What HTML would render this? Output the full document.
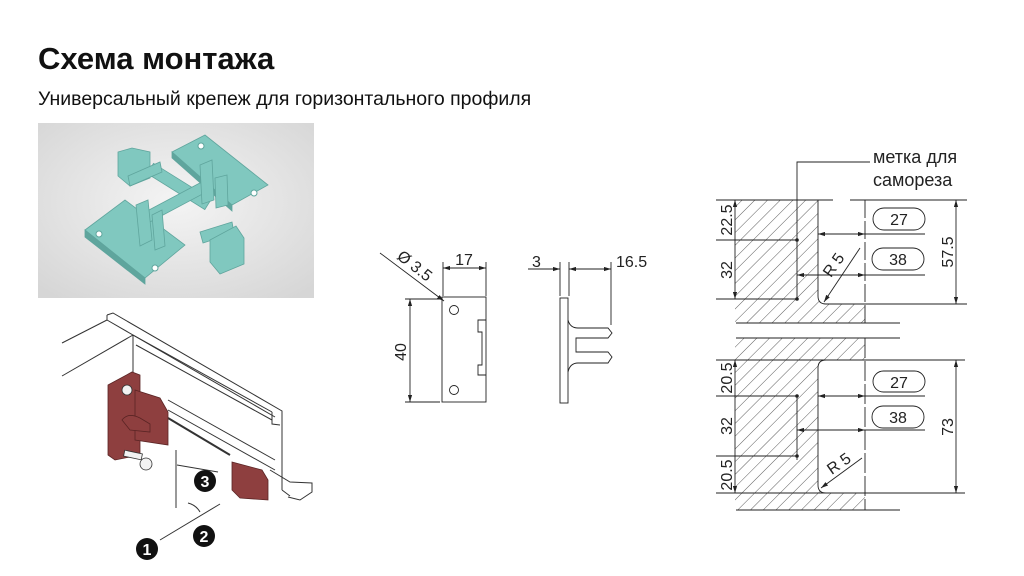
<!DOCTYPE html>
<html><head><meta charset="utf-8"><style>
html,body{margin:0;padding:0;background:#fff;}
body{width:1024px;height:576px;overflow:hidden;position:relative;font-family:"Liberation Sans",sans-serif;}
h1{position:absolute;left:38px;top:41px;margin:0;font-size:31px;font-weight:bold;color:#111;}
.sub{position:absolute;left:38px;top:88px;font-size:19.5px;color:#111;}
svg{position:absolute;left:0;top:0;}
</style></head><body>
<h1>Схема монтажа</h1>
<div class="sub">Универсальный крепеж для горизонтального профиля</div>
<svg width="1024" height="576" viewBox="0 0 1024 576" font-family="Liberation Sans, sans-serif">
<defs>
<radialGradient id="bg" cx="0.5" cy="0.45" r="0.7"><stop offset="0" stop-color="#f4f4f4"/><stop offset="1" stop-color="#d6d6d6"/></radialGradient>
<pattern id="h" width="9" height="9" patternUnits="userSpaceOnUse" patternTransform="rotate(45)"><line x1="0" y1="0" x2="0" y2="9" stroke="#333" stroke-width="0.8"/></pattern>
<marker id="a" viewBox="0 0 10 6" refX="10" refY="3" markerWidth="8" markerHeight="5" orient="auto-start-reverse"><path d="M0,0L10,3L0,6z" fill="#222"/></marker>
</defs>
<rect x="38" y="123" width="276" height="175" fill="url(#bg)"/>
<g fill="#80c8bf" stroke="#5fa59d" stroke-width="0.8">
<polygon points="85,230 125,200 185,245 145,278"/>
<polygon points="85,230 145,278 145,284 85,237" fill="#5fa59d"/>
<polygon points="172,152 205,135 268,185 232,205"/>
<polygon points="172,152 232,205 232,211 172,158" fill="#5fa59d"/>
<rect x="145" y="181" width="68" height="12" transform="rotate(32 180 187)"/>
<rect x="143" y="197" width="64" height="11" transform="rotate(-28 175 203)"/>
<polygon points="118,152 132,148 150,152 150,178 130,186 118,176"/>
<polygon points="128,176 160,162 162,172 130,186"/>
<polygon points="136,205 148,200 152,240 140,246"/>
<polygon points="152,215 162,210 165,246 155,250"/>
<polygon points="200,165 212,160 214,200 202,204"/>
<polygon points="215,178 227,175 228,205 216,208"/>
<polygon points="200,232 232,222 234,233 203,243"/>
<polygon points="210,240 236,226 244,238 244,264 220,274 210,262"/>
</g>
<g fill="#fff" stroke="#5fa59d"><circle cx="99" cy="234" r="3"/><circle cx="155" cy="268" r="3"/><circle cx="201" cy="146" r="3"/><circle cx="254" cy="193" r="3"/></g>
<g fill="none" stroke="#333" stroke-width="1">
<line x1="62" y1="343" x2="107" y2="320"/><line x1="62" y1="376" x2="133" y2="335"/>
<polyline points="107,315 113,313 282,411 282,490"/>
<line x1="107" y1="315" x2="107" y2="320"/>
<line x1="107" y1="320" x2="275" y2="417"/>
<line x1="133" y1="335" x2="272" y2="412"/>
<line x1="136" y1="345" x2="272" y2="420"/>
<polyline points="272,412 272,424 280,425"/>
<line x1="133" y1="335" x2="133" y2="385"/>
<line x1="168" y1="400" x2="275" y2="460"/>
<line x1="168" y1="410" x2="275" y2="470"/>
<line x1="168" y1="418" x2="230" y2="455" stroke-width="2"/>
<polyline points="270,470 290,482 312,483 312,492 300,500 288,497"/>
<line x1="282" y1="490" x2="290" y2="496"/>
<line x1="176" y1="450" x2="176" y2="508"/>
<line x1="177" y1="465" x2="218" y2="472"/>
<path d="M188,503 Q196,505 200,512" />
<line x1="160" y1="540" x2="220" y2="504"/>
</g>
<g fill="#8e3f3f" stroke="#5a2424" stroke-width="0.8">
<polygon points="108,385 132,372 140,375 140,455 115,460 108,455"/>
<polygon points="135,390 160,398 168,412 168,445 135,440"/>
<path d="M122,420 Q128,412 140,418 L150,424 L150,432 L130,430 Z"/>
<polygon points="232,462 262,470 268,480 268,500 240,498 232,490"/>
</g>
<g fill="#f2f2f2" stroke="#333" stroke-width="0.8"><circle cx="127" cy="390" r="5"/><circle cx="146" cy="464" r="6"/><rect x="124" y="452" width="18" height="6" transform="rotate(12 133 455)"/></g>
<g font-weight="bold" font-size="16" text-anchor="middle" fill="#fff">
<circle cx="147" cy="549" r="11" fill="#111"/><text x="147" y="555">1</text>
<circle cx="204" cy="536" r="11" fill="#111"/><text x="204" y="542">2</text>
<circle cx="205" cy="481" r="11" fill="#111"/><text x="205" y="487">3</text>
</g>
<g fill="none" stroke="#222" stroke-width="0.9">
<rect x="442" y="297" width="44" height="105" fill="#fff"/>
<circle cx="454" cy="310" r="4.5"/><circle cx="454" cy="390" r="4.5"/>
<polyline points="486,320 478,320 478,332 482,332 482,365 478,365 478,375 486,375"/>
<line x1="443" y1="262" x2="443" y2="296"/><line x1="486" y1="262" x2="486" y2="296"/>
<line x1="443" y1="268" x2="486" y2="268" marker-start="url(#a)" marker-end="url(#a)"/>
<line x1="405" y1="299" x2="440" y2="299"/><line x1="405" y1="402" x2="440" y2="402"/>
<line x1="410" y1="299" x2="410" y2="402" marker-start="url(#a)" marker-end="url(#a)"/>
<line x1="380" y1="253" x2="444" y2="301" marker-end="url(#a)"/>
<rect x="560" y="298" width="8" height="105" fill="#fff"/>
<path d="M568,320 Q570,328 578,328 L608,328 L612,333 L608,338 L576,338 L576,352 L608,352 L612,357 L608,363 L578,363 Q570,363 568,372"/>
<line x1="560" y1="262" x2="560" y2="296"/><line x1="569" y1="262" x2="569" y2="296"/><line x1="611" y1="262" x2="611" y2="325"/>
<line x1="528" y1="269" x2="560" y2="269" marker-end="url(#a)"/>
<line x1="569" y1="269" x2="611" y2="269" marker-start="url(#a)" marker-end="url(#a)"/>
</g>
<g font-size="16" fill="#222">
<text x="464" y="265" text-anchor="middle">17</text>
<text x="406" y="352" text-anchor="middle" transform="rotate(-90 406 352)">40</text>
<text x="396" y="258" transform="rotate(38 396 258)">Ø 3.5</text>
<text x="532" y="267">3</text>
<text x="616" y="267">16.5</text>
</g>
<g fill="url(#h)" stroke="none">
<path d="M735,200 L818,200 L818,296 Q818,304 826,304 L865,304 L865,323 L735,323 Z"/>
<path d="M735,338 L865,338 L865,360 L826,360 Q818,360 818,368 L818,485 Q818,493 826,493 L865,493 L865,510 L735,510 Z"/>
</g>
<g fill="none" stroke="#222" stroke-width="0.9">
<line x1="716" y1="200" x2="833" y2="200"/><line x1="850" y1="200" x2="967" y2="200"/>
<path d="M818,200 L818,296 Q818,304 826,304 L967,304"/>
<line x1="865" y1="200" x2="865" y2="323" stroke-dasharray="18,3"/>
<line x1="716" y1="240" x2="797" y2="240"/><line x1="716" y1="299" x2="797" y2="299"/>
<line x1="735" y1="200" x2="735" y2="299" marker-start="url(#a)" marker-end="url(#a)"/>
<polyline points="797,300 797,162 870,162"/>
<line x1="818" y1="234" x2="865" y2="234" marker-start="url(#a)" marker-end="url(#a)"/>
<line x1="865" y1="234" x2="925" y2="234"/>
<line x1="797" y1="275" x2="865" y2="275" marker-start="url(#a)" marker-end="url(#a)"/>
<line x1="865" y1="275" x2="925" y2="275"/>
<line x1="860" y1="248" x2="824" y2="302" marker-end="url(#a)"/>
<line x1="956" y1="200" x2="956" y2="304" marker-start="url(#a)" marker-end="url(#a)"/>
<rect x="873" y="208" width="52" height="22" rx="11"/><rect x="872" y="248" width="52" height="22" rx="11"/>
<line x1="736" y1="323" x2="900" y2="323"/><line x1="736" y1="338" x2="900" y2="338"/>
<line x1="716" y1="360" x2="965" y2="360"/><line x1="716" y1="493" x2="965" y2="493"/>
<path d="M865,360 L826,360 Q818,360 818,368 L818,485 Q818,493 826,493"/>
<line x1="865" y1="338" x2="865" y2="510" stroke-dasharray="20,3"/>
<line x1="716" y1="396" x2="797" y2="396"/><line x1="716" y1="456" x2="797" y2="456"/>
<line x1="797" y1="396" x2="797" y2="460"/>
<line x1="735" y1="360" x2="735" y2="493" marker-start="url(#a)" marker-end="url(#a)"/>
<line x1="818" y1="396" x2="865" y2="396" marker-start="url(#a)" marker-end="url(#a)"/>
<line x1="865" y1="396" x2="925" y2="396"/>
<line x1="797" y1="430" x2="865" y2="430" marker-start="url(#a)" marker-end="url(#a)"/>
<line x1="865" y1="430" x2="925" y2="430"/>
<line x1="862" y1="458" x2="821" y2="488" marker-end="url(#a)"/>
<line x1="956" y1="360" x2="956" y2="493" marker-start="url(#a)" marker-end="url(#a)"/>
<rect x="873" y="371" width="52" height="21" rx="10.5"/><rect x="872" y="406" width="52" height="22" rx="11"/>
<line x1="736" y1="510" x2="900" y2="510"/>
</g>
<g fill="#222"><circle cx="797" cy="240" r="1.8"/><circle cx="797" cy="299" r="1.8"/><circle cx="797" cy="396" r="1.8"/><circle cx="797" cy="456" r="1.8"/></g>
<g font-size="16" fill="#222">
<text x="873" y="163" font-size="18">метка для</text>
<text x="873" y="186" font-size="18">самореза</text>
<text x="899" y="225" text-anchor="middle">27</text><text x="898" y="265" text-anchor="middle">38</text>
<text x="899" y="388" text-anchor="middle">27</text><text x="898" y="423" text-anchor="middle">38</text>
<text x="732" y="220" text-anchor="middle" transform="rotate(-90 732 220)">22.5</text>
<text x="732" y="270" text-anchor="middle" transform="rotate(-90 732 270)">32</text>
<text x="953" y="252" text-anchor="middle" transform="rotate(-90 953 252)">57.5</text>
<text x="838" y="268" text-anchor="middle" transform="rotate(-55 838 268)">R 5</text>
<text x="732" y="378" text-anchor="middle" transform="rotate(-90 732 378)">20.5</text>
<text x="732" y="426" text-anchor="middle" transform="rotate(-90 732 426)">32</text>
<text x="732" y="475" text-anchor="middle" transform="rotate(-90 732 475)">20.5</text>
<text x="953" y="427" text-anchor="middle" transform="rotate(-90 953 427)">73</text>
<text x="842" y="468" text-anchor="middle" transform="rotate(-35 842 468)">R 5</text>
</g>
</svg>
</body></html>
